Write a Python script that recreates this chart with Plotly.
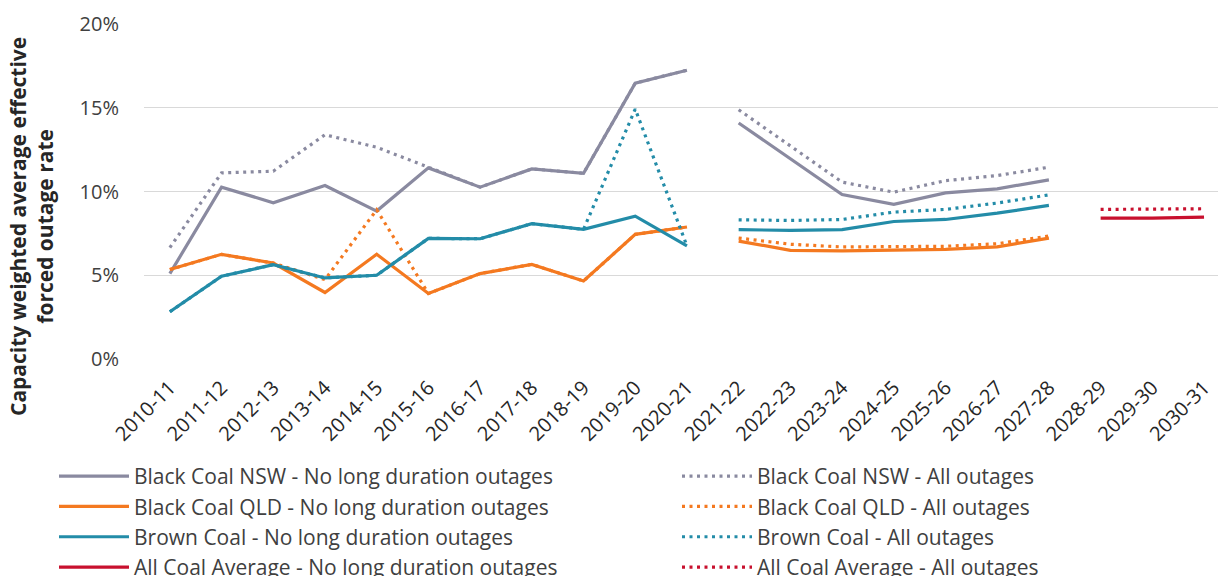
import plotly.graph_objects as go

categories = ["2010-11", "2011-12", "2012-13", "2013-14", "2014-15", "2015-16", "2016-17",
              "2017-18", "2018-19", "2019-20", "2020-21", "2021-22", "2022-23", "2023-24",
              "2024-25", "2025-26", "2026-27", "2027-28", "2028-29", "2029-30", "2030-31"]

nsw_no_long = [5.1, 10.26, 9.33, 10.36, 8.83, 11.41, 10.26, 11.35, 11.09, 16.47, 17.24,
               14.09, 11.96, 9.82, 9.23, 9.92, 10.16, 10.69, None, None, None]
nsw_all = [6.65, 11.11, 11.21, 13.39, 12.64, 11.45, 10.26, 11.35, 11.09, 16.47, 17.24,
           14.88, 12.74, 10.56, 9.96, 10.65, 10.95, 11.45, None, None, None]
qld_no_long = [5.34, 6.25, 5.73, 3.97, 6.25, 3.91, 5.1, 5.65, 4.66, 7.44, 7.88,
               7.04, 6.49, 6.45, 6.49, 6.55, 6.69, 7.22, None, None, None]
qld_all = [5.34, 6.25, 5.73, 4.74, 8.91, 3.91, 5.1, 5.65, 4.66, 7.44, 7.88,
           7.22, 6.85, 6.69, 6.69, 6.73, 6.88, 7.34, None, None, None]
brown_no_long = [2.82, 4.94, 5.63, 4.84, 5.0, 7.2, 7.18, 8.08, 7.74, 8.53, 6.75,
                 7.72, 7.68, 7.72, 8.21, 8.33, 8.71, 9.17, None, None, None]
brown_all = [2.82, 4.94, 5.63, 4.84, 5.0, 7.2, 7.18, 8.08, 7.74, 14.92, 6.75,
             8.31, 8.27, 8.33, 8.77, 8.93, 9.31, 9.8, None, None, None]
avg_no_long = [None] * 18 + [8.41, 8.41, 8.47]
avg_all = [None] * 18 + [8.93, 8.93, 8.97]

y_ticks = [0, 5, 10, 15, 20]
y_tick_labels = ["0%", "5%", "10%", "15%", "20%"]

# segments (index ranges) drawn as separate, unconnected lines
segments = [(0, 11), (11, 18), (18, 21)]

series = [
    ("Black Coal NSW - No long duration outages", nsw_no_long, "#8A8AA0", "solid", "legend"),
    ("Black Coal NSW - All outages", nsw_all, "#8A8AA0", "dot", "legend2"),
    ("Black Coal QLD - No long duration outages", qld_no_long, "#F47920", "solid", "legend"),
    ("Black Coal QLD - All outages", qld_all, "#F47920", "dot", "legend2"),
    ("Brown Coal - No long duration outages", brown_no_long, "#238CA8", "solid", "legend"),
    ("Brown Coal - All outages", brown_all, "#238CA8", "dot", "legend2"),
    ("All Coal Average - No long duration outages", avg_no_long, "#C8102E", "solid", "legend"),
    ("All Coal Average - All outages", avg_all, "#C8102E", "dot", "legend2"),
]

fig = go.Figure()

for rank, (name, vals, color, style, leg) in enumerate(series):
    dash = "solid" if style == "solid" else "3px,4.5px"
    first = True
    for a, b in segments:
        xs = categories[a:b]
        ys = vals[a:b]
        if all(v is None for v in ys):
            continue
        fig.add_trace(go.Scatter(
            x=xs, y=ys, mode="lines", name=name, legend=leg,
            legendgroup=name, showlegend=first, legendrank=rank + 1,
            line=dict(color=color, width=3.2, dash=dash),
        ))
        first = False

legend_common = dict(
    orientation="v", xref="container", yref="container",
    xanchor="left", yanchor="top", y=1 - 456 / 576,
    font=dict(size=21, color="#404040", family="Open Sans, sans-serif"),
    traceorder="normal", itemwidth=70, bgcolor="rgba(0,0,0,0)",
)

fig.update_layout(
    width=1218, height=576,
    margin=dict(l=144, r=0, t=24, b=217, autoexpand=False),
    paper_bgcolor="white", plot_bgcolor="white",
    font=dict(family="Open Sans, Noto Sans, sans-serif", color="#404040"),
    showlegend=True,
    legend=dict(legend_common, x=54 / 1218),
    legend2=dict(legend_common, x=677 / 1218),
    xaxis=dict(
        type="category", categoryorder="array", categoryarray=categories,
        range=[-0.5, 20.27], tickangle=-45, automargin=False,
        tickfont=dict(size=20, color="#262626"),
        showgrid=False, showline=False, ticks="", zeroline=False,
        ticklabelstandoff=12,
    ),
    yaxis=dict(
        range=[0, 20], tickvals=y_ticks, ticktext=y_tick_labels, automargin=False,
        tickfont=dict(size=20, color="#404040"),
        showgrid=True, gridcolor="#D9D9D9", gridwidth=1,
        zeroline=False, showline=False, ticks="", ticklabelstandoff=24,
    ),
    annotations=[dict(
        text="<b>Capacity weighted average effective<br>forced outage rate</b>",
        textangle=-90, xref="paper", yref="paper",
        x=(32 - 144) / 1074, y=(359 - 227) / 335,
        xanchor="center", yanchor="middle", showarrow=False,
        font=dict(size=21, color="#262626", family="Open Sans, sans-serif"),
    )],
)

fig.write_html("out.html", config={"displayModeBar": False},
               post_script="document.body.style.margin='0';")
